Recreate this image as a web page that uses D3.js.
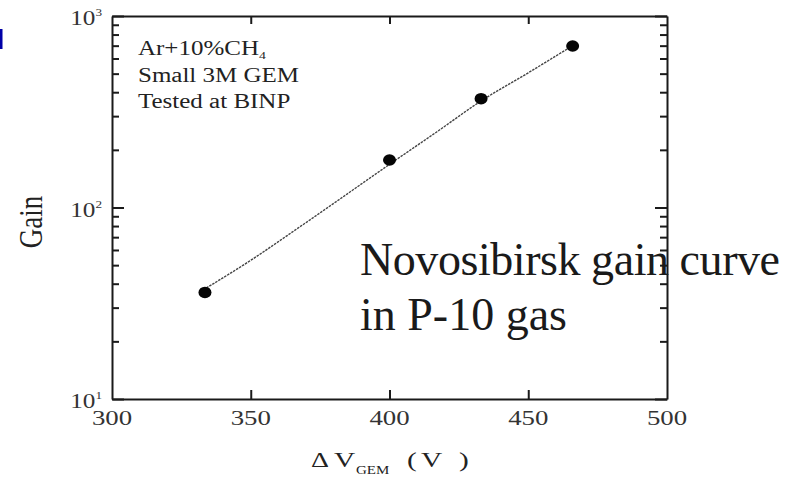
<!DOCTYPE html>
<html>
<head>
<meta charset="utf-8">
<script src="https://cdn.jsdelivr.net/npm/d3@7"></script>
<style>
html,body{margin:0;padding:0;background:#fff;}
svg{display:block;font-family:"Liberation Serif","Times New Roman",serif;}
</style>
</head>
<body>
<svg id="chart" width="795" height="481"></svg>
<script>
// ---- data ----
const voltage = [333.5, 400, 433, 466];          // ΔV_GEM (V)
const gain    = [36, 177, 370, 697];              // measured gain
const fitVoltage = [334, 350, 367, 383, 400, 417, 433, 450, 466];
const fitGain    = [38, 53, 78, 113, 168, 248, 360, 505, 700];
const xTickValues = [300, 350, 400, 450, 500];
const yTickExponents = [1, 2, 3];
const infoLines = ["Ar+10%CH", "Small 3M GEM", "Tested at BINP"];
const noteLines = ["Novosibirsk gain curve", "in P-10 gas"];

const svg = d3.select("#chart");
const L = 112, R = 667, T = 16, B = 399;
const x = d3.scaleLinear().domain([300, 500]).range([L, R]);
const y = d3.scaleLog().domain([10, 1000]).range([B, T]);

// blue mark at left edge
svg.append("rect").attr("x", 0).attr("y", 29).attr("width", 2.5).attr("height", 20).attr("fill", "#0000a8");

const axisColor = "#1a1a1a";
const majorY = yTickExponents.map(e => Math.pow(10, e));
const minorY = [];
[10, 100].forEach(d => { for (let k = 2; k <= 9; k++) minorY.push(d * k); });

function styleAxis(g) {
  g.selectAll("path.domain").attr("stroke", axisColor).attr("stroke-width", 2);
  g.selectAll(".tick line").attr("stroke", axisColor).attr("stroke-width", 2);
  g.selectAll(".tick text").remove();
}

// big note text (drawn below axes)
const note = svg.append("g");
noteLines.forEach((t, i) => {
  note.append("text").attr("x", 360).attr("y", 275 + i * 55)
    .attr("font-size", 46).attr("fill", "#1a1a1a").text(t)
    .attr("textLength", i === 0 ? 420 : null);
});

// fit line
const line = d3.line().x((d, i) => x(fitVoltage[i])).y((d, i) => y(fitGain[i])).curve(d3.curveMonotoneX);
svg.append("path").datum(fitGain).attr("d", line)
  .attr("fill", "none").attr("stroke", "#444").attr("stroke-width", 1.4)
  .attr("stroke-dasharray", "2.5,1");

// data points
svg.append("g").selectAll("ellipse").data(gain).join("ellipse")
  .attr("cx", (d, i) => x(voltage[i])).attr("cy", d => y(d))
  .attr("rx", 6.5).attr("ry", 5.8).attr("fill", "#050505");

// axes
svg.append("g").attr("transform", `translate(0,${B})`)
  .call(d3.axisBottom(x).tickValues([350, 400, 450]).tickSizeInner(-9).tickSizeOuter(0)).call(styleAxis);
svg.append("g").attr("transform", `translate(0,${T})`)
  .call(d3.axisTop(x).tickValues([350, 400, 450]).tickSizeInner(-8).tickSizeOuter(0)).call(styleAxis);
svg.append("g").attr("transform", `translate(${L},0)`)
  .call(d3.axisLeft(y).tickValues(majorY).tickSizeInner(-12).tickSizeOuter(0)).call(styleAxis);
svg.append("g").attr("transform", `translate(${L},0)`)
  .call(d3.axisLeft(y).tickValues(minorY).tickSizeInner(-7).tickSizeOuter(0)).call(styleAxis)
  .select("path.domain").remove();
svg.append("g").attr("transform", `translate(${R},0)`)
  .call(d3.axisRight(y).tickValues(majorY).tickSizeInner(-12).tickSizeOuter(0)).call(styleAxis);
svg.append("g").attr("transform", `translate(${R},0)`)
  .call(d3.axisRight(y).tickValues(minorY).tickSizeInner(-7).tickSizeOuter(0)).call(styleAxis)
  .select("path.domain").remove();

// x tick labels
svg.append("g").selectAll("text").data(xTickValues).join("text")
  .attr("transform", d => `translate(${x(d)},425) scale(1.22,1)`)
  .attr("text-anchor", "middle").attr("font-size", 22).attr("fill", "#333")
  .text(d => d);

// y tick labels 10^n
yTickExponents.forEach(e => {
  const t = svg.append("text")
    .attr("transform", `translate(${L - 10},${y(Math.pow(10, e)) + 9}) scale(1.2,1)`)
    .attr("text-anchor", "end").attr("font-size", 21).attr("fill", "#333");
  t.append("tspan").text("10");
  t.append("tspan").attr("font-size", 11).attr("dy", -9).text(e);
});

// axis titles
svg.append("text").attr("transform", "translate(42,222) rotate(-90) scale(1,1.25)")
  .attr("text-anchor", "middle").attr("font-size", 27).attr("fill", "#222").text("Gain");

const xTitleParts = [
  {t: "\u0394", x: 311, y: 467, s: 20},
  {t: "V", x: 334, y: 467, s: 21},
  {t: "GEM", x: 356, y: 474, s: 12},
  {t: "(", x: 407, y: 467, s: 21},
  {t: "V", x: 421, y: 467, s: 21},
  {t: ")", x: 459, y: 467, s: 21}
];
svg.append("g").selectAll("text").data(xTitleParts).join("text")
  .attr("transform", d => `translate(${d.x},${d.y}) scale(${d.s === 12 ? 1.25 : 1.4},1)`)
  .attr("font-size", d => d.s).attr("fill", "#222").text(d => d.t);

// info text
infoLines.forEach((t, i) => {
  const tx = svg.append("text").attr("transform", `translate(138,${55 + i * 26.5}) scale(1.25,1)`)
    .attr("font-size", 20).attr("fill", "#222");
  tx.append("tspan").text(t);
  if (i === 0) tx.append("tspan").attr("font-size", 11).attr("dy", 4).text("4");
});
</script>
</body>
</html>
